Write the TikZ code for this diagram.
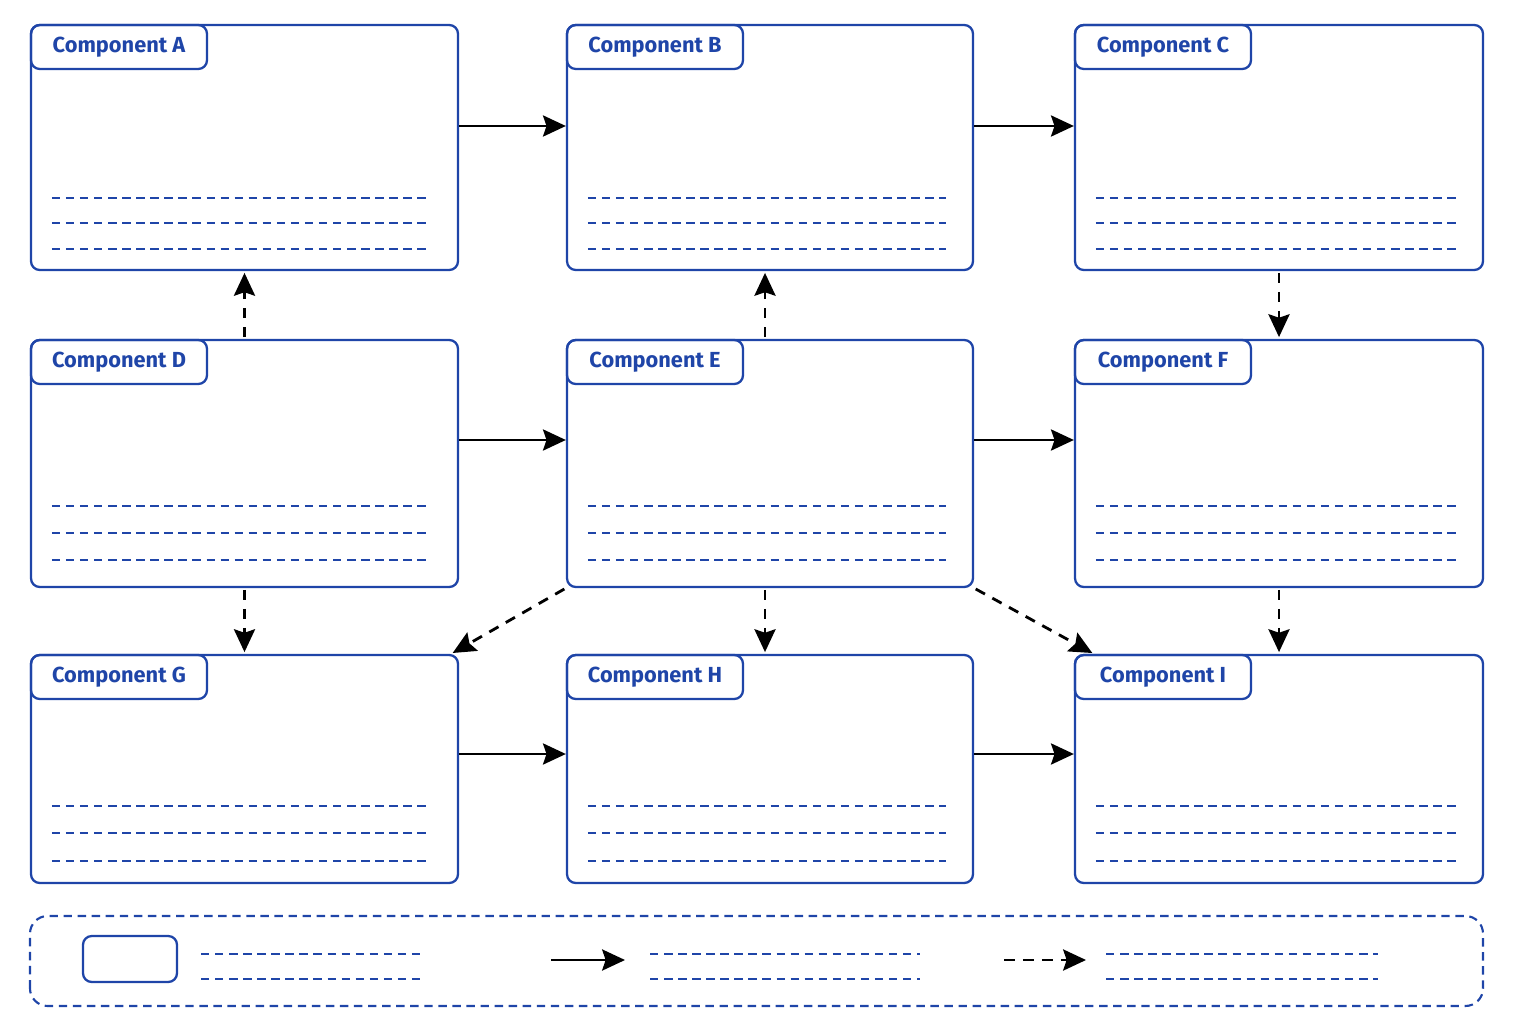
\documentclass[tikz,border=0pt]{standalone}
\usepackage{fontspec}
\setmainfont{Fira Sans}
\usetikzlibrary{arrows.meta,calc}
\definecolor{compblue}{HTML}{1F45A8}
\newcommand{\dashrows}[2]{% node, offsets from bottom
  \foreach \dy in {#2}
    \draw[guide]($(#1.south west)+(0.22,\dy)$)--($(#1.south east)+(-0.28,\dy)$);}

\begin{document}
\begin{tikzpicture}[>={Stealth[width=6pt,length=6.5pt,inset=1pt]},
      comp/.style={draw=compblue,line width=0.65pt,rounded corners=2.5pt,fill=white,inner sep=0pt},
      tab/.style={draw=compblue,line width=0.65pt,rounded corners=2.5pt,minimum width=1.76cm,
        minimum height=0.44cm,anchor=north west,inner sep=0pt,text=compblue,font=\fontsize{6.2}{8}\selectfont\bfseries},
      guide/.style={compblue,line width=0.5pt,dash pattern=on 2.4pt off 1.6pt},
      flow/.style={->,line width=0.8pt,black},
      link/.style={->,line width=0.8pt,black,dash pattern=on 3pt off 2.4pt,shorten >=0.5pt,shorten <=0.5pt}]
  \useasboundingbox(0,0)rectangle(15.36,10.24);
  % components
  \node[comp,minimum width=4.27cm,minimum height=2.45cm](compA)at(2.445,8.765){};
  \node[comp,minimum width=4.06cm,minimum height=2.45cm](compB)at(7.70,8.765){};
  \node[comp,minimum width=4.08cm,minimum height=2.45cm](compC)at(12.79,8.765){};
  \node[comp,minimum width=4.27cm,minimum height=2.47cm](compD)at(2.445,5.605){};
  \node[comp,minimum width=4.06cm,minimum height=2.47cm](compE)at(7.70,5.605){};
  \node[comp,minimum width=4.08cm,minimum height=2.47cm](compF)at(12.79,5.605){};
  \node[comp,minimum width=4.27cm,minimum height=2.28cm](compG)at(2.445,2.55){};
  \node[comp,minimum width=4.06cm,minimum height=2.28cm](compH)at(7.70,2.55){};
  \node[comp,minimum width=4.08cm,minimum height=2.28cm](compI)at(12.79,2.55){};
  \foreach \c in {A,B,C,D,E,F,G,H,I}{
    \node[tab](tab\c)at(comp\c.north west){Component \c};}
  \foreach \c in {A,B,C}{\dashrows{comp\c}{0.73,0.48,0.22}}
  \foreach \c in {D,E,F}{\dashrows{comp\c}{0.82,0.55,0.28}}
  \foreach \c in {G,H,I}{\dashrows{comp\c}{0.78,0.51,0.23}}
  % solid flows
  \draw[flow]([yshift=2.15mm]compA.east)--([yshift=2.15mm]compB.west);
  \draw[flow]([yshift=2.15mm]compB.east)--([yshift=2.15mm]compC.west);
  \draw[flow]([yshift=2.35mm]compD.east)--([yshift=2.35mm]compE.west);
  \draw[flow]([yshift=2.35mm]compE.east)--([yshift=2.35mm]compF.west);
  \draw[flow]([yshift=1.5mm]compG.east)--([yshift=1.5mm]compH.west);
  \draw[flow]([yshift=1.5mm]compH.east)--([yshift=1.5mm]compI.west);
  % dashed links
  \draw[link](compD.north)--(compA.south);
  \draw[link]([xshift=-0.5mm]compE.north)--([xshift=-0.5mm]compB.south);
  \draw[link](compC.south)--(compF.north);
  \draw[link](compD.south)--(compG.north);
  \draw[link]([xshift=-0.5mm]compE.south)--([xshift=-0.5mm]compH.north);
  \draw[link](compF.south)--(compI.north);
  \draw[link](compE.south west)--([xshift=-0.8mm]compG.north east);
  \draw[link](compE.south east)--([xshift=2mm]compI.north west);
  % legend
  \draw[compblue,line width=0.6pt,dash pattern=on 2.4pt off 1.6pt,rounded corners=5pt](0.30,0.18)rectangle(14.83,1.08);
  \node[comp,minimum width=0.94cm,minimum height=0.46cm](keyBox)at(1.30,0.65){};
  \foreach \x/\w in {2.01/2.19,6.50/2.70,11.06/2.72}
    \foreach \y in {0.70,0.45}
      \draw[guide](\x,\y)--++(\w,0);
  \coordinate(keyFlowA)at(5.51,0.64);\coordinate(keyFlowB)at(6.25,0.64);
  \coordinate(keyLinkA)at(10.04,0.64);\coordinate(keyLinkB)at(10.86,0.64);
  \draw[flow](keyFlowA)--(keyFlowB);
  \draw[link,shorten <=0pt,shorten >=0pt](keyLinkA)--(keyLinkB);
\end{tikzpicture}
\end{document}
